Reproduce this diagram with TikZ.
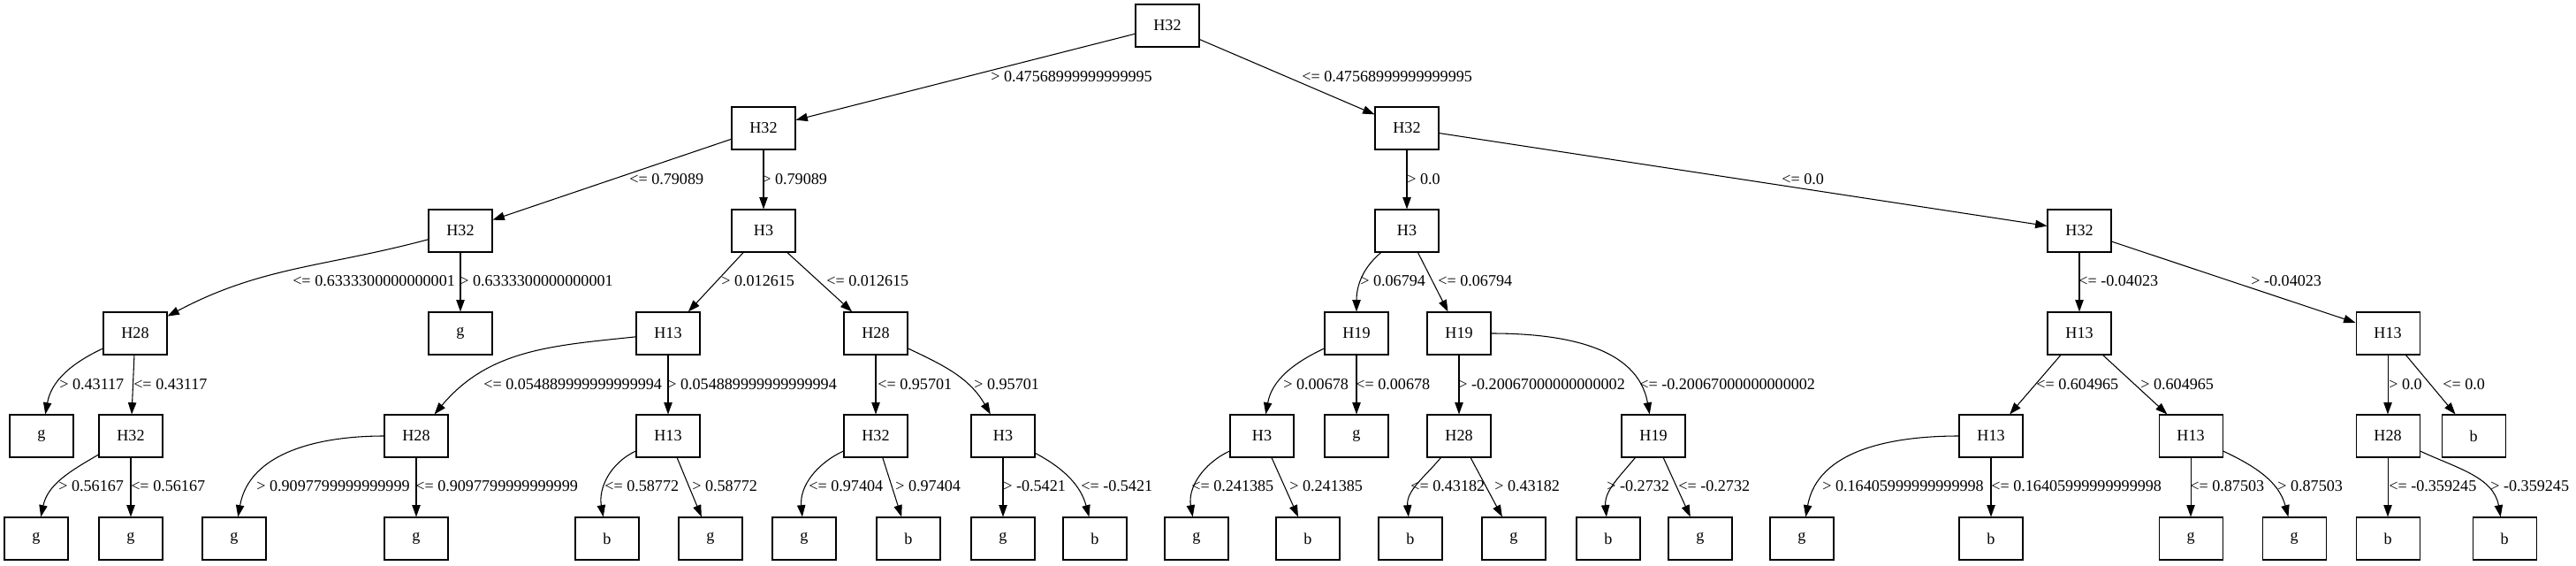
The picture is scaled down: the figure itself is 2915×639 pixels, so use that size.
\documentclass[tikz,border=0pt]{standalone}
\usepackage{fontspec}
\setmainfont{Liberation Serif}
\usetikzlibrary{arrows.meta}

\begin{document}
\begin{tikzpicture}[
x=0.75pt,
y=-0.75pt,
>={Triangle[length=10pt,width=7pt]},
every node/.style={font=\fontsize{13.6}{16}\selectfont},
box/.style={
draw,
line width=0.8pt,
minimum width=54pt,
minimum height=36pt,
inner sep=0pt
},
lbl/.style={anchor=west,inner sep=0pt},
arrow/.style={->,line width=0.8pt}
]

\useasboundingbox (0,0) rectangle (2915,639);

% Root
\node[box] (root) at (1321,29) {H32};

% Level 1
\node[box] (n1a) at (864,145) {H32};
\node[box] (n1b) at (1592,145) {H32};

% Level 2
\node[box] (n2a) at (521,261) {H32};
\node[box] (n2b) at (864,261) {H3};
\node[box] (n2c) at (1592,261) {H3};
\node[box] (n2d) at (2353,261) {H32};

% Level 3
\node[box] (n3a) at (153,377) {H28};
\node[box] (n3b) at (521,377) {g};
\node[box] (n3c) at (756,377) {H13};
\node[box] (n3d) at (991,377) {H28};
\node[box] (n3e) at (1535,377) {H19};
\node[box] (n3f) at (1651,377) {H19};
\node[box] (n3g) at (2353,377) {H13};
\node[box] (n3h) at (2702,377) {H13};

% Level 4
\node[box] (n4a) at (47,493) {g};
\node[box] (n4b) at (148,493) {H32};
\node[box] (n4c) at (471,493) {H28};
\node[box] (n4d) at (756,493) {H13};
\node[box] (n4e) at (991,493) {H32};
\node[box] (n4f) at (1135,493) {H3};
\node[box] (n4g) at (1428,493) {H3};
\node[box] (n4h) at (1535,493) {g};
\node[box] (n4i) at (1651,493) {H28};
\node[box] (n4j) at (1871,493) {H19};
\node[box] (n4k) at (2253,493) {H13};
\node[box] (n4l) at (2479,493) {H13};
\node[box] (n4m) at (2702,493) {H28};
\node[box] (n4n) at (2799,493) {b};

% Leaves
\node[box] (n5a) at (41,609) {g};
\node[box] (n5b) at (148,609) {g};
\node[box] (n5c) at (265,609) {g};
\node[box] (n5d) at (471,609) {g};
\node[box] (n5e) at (687,609) {b};
\node[box] (n5f) at (804,609) {g};
\node[box] (n5g) at (910,609) {g};
\node[box] (n5h) at (1028,609) {b};
\node[box] (n5i) at (1135,609) {g};
\node[box] (n5j) at (1239,609) {b};
\node[box] (n5k) at (1354,609) {g};
\node[box] (n5l) at (1480,609) {b};
\node[box] (n5m) at (1596,609) {b};
\node[box] (n5n) at (1713,609) {g};
\node[box] (n5o) at (1820,609) {b};
\node[box] (n5p) at (1924,609) {g};
\node[box] (n5q) at (2039,609) {g};
\node[box] (n5r) at (2253,609) {b};
\node[box] (n5s) at (2479,609) {g};
\node[box] (n5t) at (2596,609) {g};
\node[box] (n5u) at (2702,609) {b};
\node[box] (n5v) at (2834,609) {b};

% Arrows
\draw[arrow] (root)--(n1a);
\draw[arrow] (root)--(n1b);

\draw[arrow] (n1a)--(n2a);
\draw[arrow] (n1a)--(n2b);
\draw[arrow] (n1b)--(n2c);
\draw[arrow] (n1b)--(n2d);

\draw[arrow] (n2a) to[out=195,in=28] (n3a);
\draw[arrow] (n2a)--(n3b);
\draw[arrow] (n2b)--(n3c);
\draw[arrow] (n2b)--(n3d);
\draw[arrow] (n2c) to[out=220,in=90] (n3e);
\draw[arrow] (n2c)--(n3f);
\draw[arrow] (n2d)--(n3g);
\draw[arrow] (n2d)--(n3h);

\draw[arrow] (n3a) to[out=205,in=80] (n4a);
\draw[arrow] (n3a)--(n4b);
\draw[arrow] (n3c) to[out=186,in=50] (n4c);
\draw[arrow] (n3c)--(n4d);
\draw[arrow] (n3d)--(n4e);
\draw[arrow] (n3d) to[out=-25,in=120] (n4f);
\draw[arrow] (n3e) to[out=205,in=80] (n4g);
\draw[arrow] (n3e)--(n4h);
\draw[arrow] (n3f)--(n4i);
\draw[arrow] (n3f) to[out=0,in=100] (n4j);
\draw[arrow] (n3g)--(n4k);
\draw[arrow] (n3g)--(n4l);
\draw[arrow] (n3h)--(n4m);
\draw[arrow] (n3h)--(n4n);

\draw[arrow] (n4b) to[out=210,in=78] (n5a);
\draw[arrow] (n4b)--(n5b);
\draw[arrow] (n4c) to[out=180,in=80] (n5c);
\draw[arrow] (n4c)--(n5d);
\draw[arrow] (n4d) to[out=205,in=100] (n5e);
\draw[arrow] (n4d)--(n5f);
\draw[arrow] (n4e) to[out=205,in=95] (n5g);
\draw[arrow] (n4e)--(n5h);
\draw[arrow] (n4f)--(n5i);
\draw[arrow] (n4f) to[out=-28,in=105] (n5j);
\draw[arrow] (n4g) to[out=205,in=100] (n5k);
\draw[arrow] (n4g)--(n5l);
\draw[arrow] (n4i) to[out=230,in=95] (n5m);
\draw[arrow] (n4i)--(n5n);
\draw[arrow] (n4j) to[out=230,in=95] (n5o);
\draw[arrow] (n4j)--(n5p);
\draw[arrow] (n4k) to[out=180,in=80] (n5q);
\draw[arrow] (n4k)--(n5r);
\draw[arrow] (n4l)--(n5s);
\draw[arrow] (n4l) to[out=-25,in=105] (n5t);
\draw[arrow] (n4m)--(n5u);
\draw[arrow] (n4m) to[out=-25,in=100] (n5v);

% Edge labels
\node[lbl] (e1a) at (1121,87) {> 0.47568999999999995};
\node[lbl] (e1b) at (1473,87) {<= 0.47568999999999995};

\node[lbl] (e2a) at (712,203) {<= 0.79089};
\node[lbl] (e2b) at (862,203) {> 0.79089};
\node[lbl] (e2c) at (1592,203) {> 0.0};
\node[lbl] (e2d) at (2016,203) {<= 0.0};

\node[lbl] (e3a) at (331,318) {<= 0.6333300000000001};
\node[lbl] (e3b) at (520,318) {> 0.6333300000000001};
\node[lbl] (e3c) at (816,318) {> 0.012615};
\node[lbl] (e3d) at (935,318) {<= 0.012615};
\node[lbl] (e3e) at (1539,318) {> 0.06794};
\node[lbl] (e3f) at (1627,318) {<= 0.06794};
\node[lbl] (e3g) at (2352,318) {<= -0.04023};
\node[lbl] (e3h) at (2547,318) {> -0.04023};

\node[lbl] (e4a) at (67,435) {> 0.43117};
\node[lbl] (e4b) at (151,435) {<= 0.43117};
\node[lbl] (e4c) at (547,435) {<= 0.054889999999999994};
\node[lbl] (e4d) at (755,435) {> 0.054889999999999994};
\node[lbl] (e4e) at (993,435) {<= 0.95701};
\node[lbl] (e4f) at (1102,435) {> 0.95701};
\node[lbl] (e4g) at (1452,435) {> 0.00678};
\node[lbl] (e4h) at (1534,435) {<= 0.00678};
\node[lbl] (e4i) at (1650,435) {> -0.20067000000000002};
\node[lbl] (e4j) at (1855,435) {<= -0.20067000000000002};
\node[lbl] (e4k) at (2304,435) {<= 0.604965};
\node[lbl] (e4l) at (2422,435) {> 0.604965};
\node[lbl] (e4m) at (2703,435) {> 0.0};
\node[lbl] (e4n) at (2764,435) {<= 0.0};

\node[lbl] (e5a) at (66,550) {> 0.56167};
\node[lbl] (e5b) at (148,550) {<= 0.56167};
\node[lbl] (e5c) at (290,550) {> 0.9097799999999999};
\node[lbl] (e5d) at (470,550) {<= 0.9097799999999999};
\node[lbl] (e5e) at (684,550) {<= 0.58772};
\node[lbl] (e5f) at (783,550) {> 0.58772};
\node[lbl] (e5g) at (915,550) {<= 0.97404};
\node[lbl] (e5h) at (1013,550) {> 0.97404};
\node[lbl] (e5i) at (1135,550) {> -0.5421};
\node[lbl] (e5j) at (1223,550) {<= -0.5421};
\node[lbl] (e5k) at (1348,550) {<= 0.241385};
\node[lbl] (e5l) at (1459,550) {> 0.241385};
\node[lbl] (e5m) at (1596,550) {<= 0.43182};
\node[lbl] (e5n) at (1691,550) {> 0.43182};
\node[lbl] (e5o) at (1818,550) {> -0.2732};
\node[lbl] (e5p) at (1899,550) {<= -0.2732};
\node[lbl] (e5q) at (2062,550) {> 0.16405999999999998};
\node[lbl] (e5r) at (2253,550) {<= 0.16405999999999998};
\node[lbl] (e5s) at (2478,550) {<= 0.87503};
\node[lbl] (e5t) at (2577,550) {> 0.87503};
\node[lbl] (e5u) at (2703,550) {<= -0.359245};
\node[lbl] (e5v) at (2818,550) {> -0.359245};

\end{tikzpicture}
\end{document}
